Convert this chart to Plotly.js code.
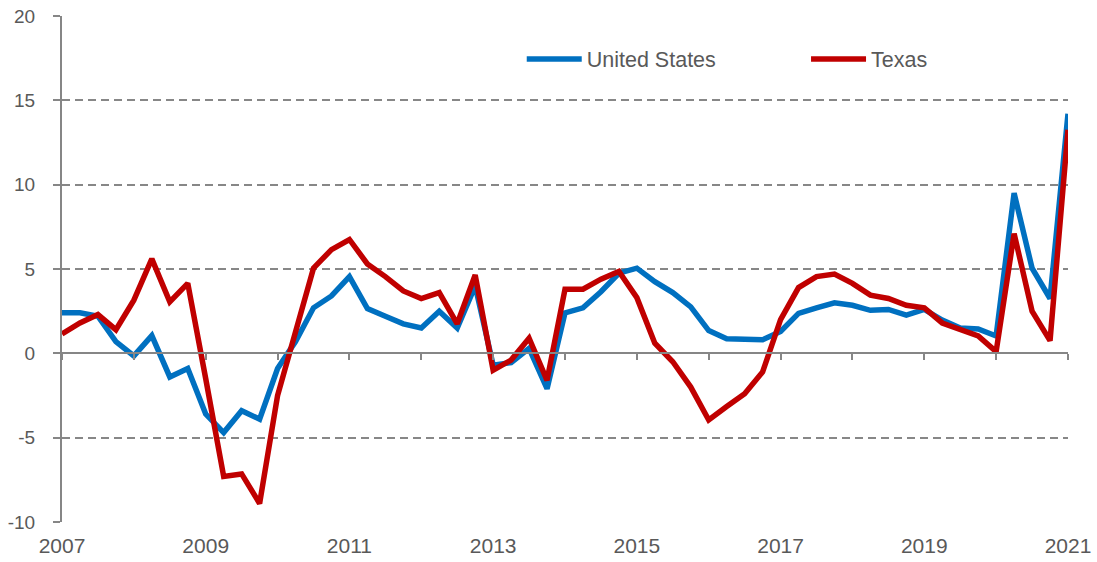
<!DOCTYPE html>
<html>
<head>
<meta charset="utf-8">
<script src="https://cdn.plot.ly/plotly-3.0.1.min.js"></script>
<style>html,body{margin:0;padding:0;background:#fff;}#chart{width:1097px;height:562px;}</style>
</head>
<body>
<div id="chart"></div>
<script>
// Quarterly series, 2007 Q1 to 2021 Q1
var startYear = 2007;
var seriesNames = ["United States", "Texas"];
var unitedStates = [2.4, 2.4, 2.2, 0.7, -0.15, 1.05, -1.4, -0.9,
  -3.6, -4.7, -3.4, -3.9, -0.9, 0.7, 2.7, 3.4,
  4.55, 2.65, 2.2, 1.75, 1.5, 2.5, 1.5, 4.0,
  -0.7, -0.55, 0.3, -2.1, 2.4, 2.7, 3.65, 4.75,
  5.05, 4.25, 3.6, 2.75, 1.35, 0.87, 0.83, 0.8,
  1.3, 2.37, 2.7, 3.0, 2.85, 2.55, 2.6, 2.27,
  2.6, 1.97, 1.5, 1.45, 1.03, 9.5, 5.05, 3.25,
  14.2];
var texas = [1.15, 1.8, 2.3, 1.4, 3.15, 5.6, 3.05, 4.15,
  -1.5, -7.3, -7.15, -8.9, -2.5, 1.3, 5.05, 6.15,
  6.75, 5.3, 4.55, 3.7, 3.25, 3.6, 1.75, 4.65,
  -1.0, -0.4, 0.9, -1.6, 3.8, 3.8, 4.4, 4.85,
  3.3, 0.6, -0.5, -2.0, -3.95, -3.15, -2.4, -1.1,
  2.0, 3.9, 4.55, 4.7, 4.15, 3.45, 3.25, 2.85,
  2.7, 1.8, 1.45, 1.03, 0.1, 7.1, 2.5, 0.75,
  13.25];
var yearTicks = [2007, 2009, 2011, 2013, 2015, 2017, 2019, 2021];
var yTicks = [-10, -5, 0, 5, 10, 15, 20];

var xq = unitedStates.map(function (v, i) { return startYear + i / 4; });

var traces = [
  {x: xq, y: unitedStates, name: seriesNames[0], type: 'scatter', mode: 'lines',
   line: {color: '#0070C0', width: 5.5}, xaxis: 'x', yaxis: 'y', legend: 'legend', hoverinfo: 'x+y'},
  {x: xq, y: texas, name: seriesNames[1], type: 'scatter', mode: 'lines',
   line: {color: '#C00000', width: 5.5}, xaxis: 'x2', yaxis: 'y', legend: 'legend2', hoverinfo: 'x+y'}
];

var axisGray = '#868686';
var legendFont = {family: 'Liberation Sans, Arial, sans-serif', size: 21.5, color: '#595959'};
var layout = {
  width: 1097, height: 562,
  margin: {l: 62, r: 29, t: 16, b: 40},
  paper_bgcolor: '#fff', plot_bgcolor: '#fff',
  font: {family: 'Liberation Sans, Arial, sans-serif', size: 18, color: '#595959'},
  xaxis: {
    range: [2007, 2021], tickvals: yearTicks, ticktext: yearTicks.map(String),
    showgrid: false, zeroline: false, showline: false, ticks: '',
    tickfont: {family: 'Liberation Sans Narrow, Liberation Sans, Arial, sans-serif', size: 21, color: '#595959'},
    ticklabelstandoff: 9, fixedrange: true
  },
  xaxis2: {
    range: [2007, 2021], overlaying: 'x', anchor: 'free', position: 1 / 3,
    dtick: 1, tick0: 2007, ticks: 'outside', ticklen: 6, tickwidth: 2, tickcolor: axisGray,
    showline: true, linecolor: axisGray, linewidth: 2,
    showticklabels: false, showgrid: false, zeroline: false, fixedrange: true
  },
  yaxis: {
    range: [-10, 20], tickvals: yTicks, ticktext: yTicks.map(String),
    showgrid: true, gridcolor: '#878787', gridwidth: 2, griddash: '8px,5px',
    zeroline: false, showline: true, linecolor: axisGray, linewidth: 2,
    ticks: 'outside', ticklen: 7, tickwidth: 2, tickcolor: axisGray,
    ticklabelstandoff: 14, tickfont: {size: 19, color: '#595959'}, fixedrange: true
  },
  legend: {x: 0.457, y: 0.915, xanchor: 'left', yanchor: 'middle', orientation: 'h',
    itemwidth: 55, bgcolor: 'rgba(0,0,0,0)', font: legendFont},
  legend2: {x: 0.7396, y: 0.915, xanchor: 'left', yanchor: 'middle', orientation: 'h',
    itemwidth: 55, bgcolor: 'rgba(0,0,0,0)', font: legendFont},
  showlegend: true
};

Plotly.newPlot('chart', traces, layout, {staticPlot: true, displayModeBar: false});
</script>
</body>
</html>
